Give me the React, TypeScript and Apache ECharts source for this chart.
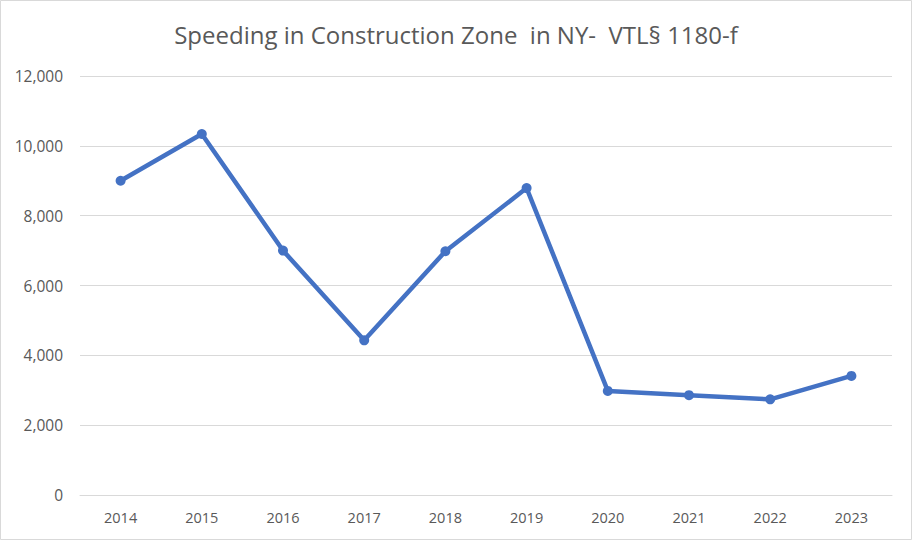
import React, { useEffect, useRef } from "react";
import * as echarts from "echarts";

const years = ["2014", "2015", "2016", "2017", "2018", "2019", "2020", "2021", "2022", "2023"];
const values = [9000, 10340, 7000, 4430, 6980, 8790, 2980, 2860, 2740, 3410];
const yTicks = { min: 0, max: 12000, interval: 2000 };
const title = "Speeding in Construction Zone  in NY-  VTL§ 1180-f";

export default function App() {
  const ref = useRef<HTMLDivElement>(null);
  useEffect(() => {
    document.body.style.margin = "0";
    const chart = echarts.init(ref.current!, null, { renderer: "svg" });
    const font = "'Open Sans', Carlito, 'Liberation Sans', sans-serif";
    chart.setOption({
      animation: false,
      backgroundColor: "#ffffff",
      title: {
        text: title,
        left: "center",
        top: 17,
        textStyle: { color: "#595959", fontSize: 24, fontWeight: "normal", fontFamily: font },
      },
      graphic: [
        {
          type: "rect",
          shape: { x: 0.5, y: 0.5, width: 911, height: 539 },
          style: { fill: "none", stroke: "#d9d9d9", lineWidth: 1 },
          silent: true,
        },
      ],
      grid: { left: 80, right: 20, top: 76, bottom: 46, containLabel: false },
      xAxis: {
        type: "category",
        data: years,
        boundaryGap: true,
        axisLine: { show: true, lineStyle: { color: "#d9d9d9", width: 1 } },
        axisTick: { show: false },
        axisLabel: { color: "#595959", fontSize: 14.5, fontFamily: font, margin: 15 },
      },
      yAxis: {
        type: "value",
        min: yTicks.min,
        max: yTicks.max,
        interval: yTicks.interval,
        axisLine: { show: false },
        axisTick: { show: false },
        splitLine: { lineStyle: { color: "#d9d9d9", width: 1 } },
        axisLabel: {
          color: "#595959",
          fontSize: 15.5,
          fontFamily: font,
          margin: 17,
          formatter: (v: number) => v.toLocaleString("en-US"),
        },
      },
      series: [
        {
          type: "line",
          data: values,
          symbol: "circle",
          symbolSize: 10,
          lineStyle: { color: "#4472C4", width: 4.5 },
          itemStyle: { color: "#4472C4" },
        },
      ],
    });
    return () => chart.dispose();
  }, []);
  return <div ref={ref} style={{ width: 912, height: 541 }} />;
}
